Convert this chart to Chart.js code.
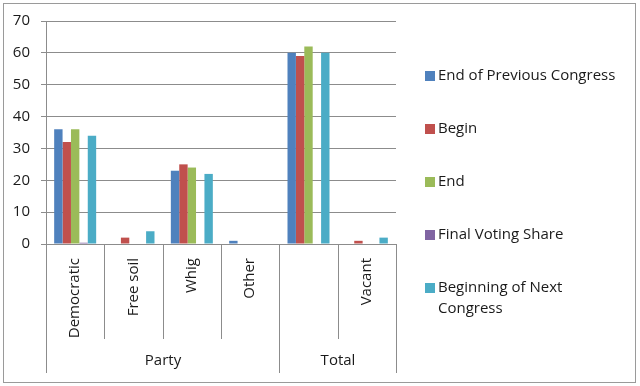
<!DOCTYPE html>
<html>
<head>
<meta charset="utf-8">
<script src="https://cdn.jsdelivr.net/npm/chart.js@4/dist/chart.umd.min.js"></script>
<style>
  html, body { margin: 0; padding: 0; background: #fff; }
  #wrap { position: relative; width: 640px; height: 386px; }
  #frame { position: absolute; left: 3px; top: 3px; width: 633px; height: 380px; border: 1px solid #9a9a9a; box-sizing: border-box; pointer-events: none; }
</style>
</head>
<body>
<div id="wrap">
  <canvas id="chart" width="640" height="386"></canvas>
  <div id="frame"></div>
</div>
<script>
// categories (inner level) and groups (outer level)
const categories = ['Democratic', 'Free soil', 'Whig', 'Other', '', 'Vacant'];
const groupLabels = ['Party', 'Total'];
const groupSpans = [4, 2];

// series
const seriesNames = ['End of Previous Congress', 'Begin', 'End', 'Final Voting Share', ['Beginning of Next', 'Congress']];
const endPrevious = [36, 0, 23, 1, 60, 0];
const begin = [32, 2, 25, 0, 59, 1];
const end = [36, 0, 24, 0, 62, 0];
const finalShare = [0.4, 0, 0, 0, 0, 0];
const beginNext = [34, 4, 22, 0, 60, 2];

const yTicks = [0, 10, 20, 30, 40, 50, 60, 70];

const colors = ['#4F81BD', '#C0504D', '#9BBB59', '#8064A2', '#4BACC6'];
const lineColor = '#8c8c8c';
const textColor = '#1a1a1a';
const fontFamily = '"Open Sans", "DejaVu Sans", sans-serif';

// draws the two-level category axis (separators + group labels)
const multiLevelAxis = {
    id: 'multiLevelAxis',
    afterDraw(chart) {
        const ctx = chart.ctx;
        const x = chart.scales.x;
        const area = chart.chartArea;
        const half = (x.getPixelForValue(1) - x.getPixelForValue(0)) / 2;
        const edge = i => Math.round(x.getPixelForValue(i) - half) + 0.5;

        // which boundaries are group edges
        const outer = [0];
        let acc = 0;
        groupSpans.forEach(s => { acc += s; outer.push(acc); });

        ctx.save();
        ctx.strokeStyle = lineColor;
        ctx.lineWidth = 1;
        for (let i = 0; i <= categories.length; i++) {
            const px = edge(i);
            const bottom = outer.includes(i) ? 373 : 339;
            ctx.beginPath();
            ctx.moveTo(px, area.bottom);
            ctx.lineTo(px, bottom);
            ctx.stroke();
        }

        // group labels
        ctx.fillStyle = textColor;
        ctx.font = '15px ' + fontFamily;
        ctx.textAlign = 'center';
        ctx.textBaseline = 'middle';
        let start = 0;
        groupLabels.forEach((label, g) => {
            const left = edge(start);
            const right = edge(start + groupSpans[g]);
            ctx.fillText(label, (left + right) / 2, 361);
            start += groupSpans[g];
        });
        ctx.restore();
    }
};

// legend on the right, with the last entry on two lines
const sideLegend = {
    id: 'sideLegend',
    afterDraw(chart) {
        const ctx = chart.ctx;
        const rowY = [76, 129, 182, 235, 288];
        ctx.save();
        ctx.font = '15px ' + fontFamily;
        ctx.textBaseline = 'middle';
        ctx.textAlign = 'left';
        chart.data.datasets.forEach((ds, i) => {
            const y = rowY[i];
            ctx.fillStyle = ds.backgroundColor;
            ctx.fillRect(425, y - 5, 10, 10);
            ctx.fillStyle = textColor;
            const lines = Array.isArray(ds.label) ? ds.label : [ds.label];
            lines.forEach((line, k) => ctx.fillText(line, 438, y + k * 21));
        });
        ctx.restore();
    }
};

const seriesValues = [endPrevious, begin, end, finalShare, beginNext];

new Chart(document.getElementById('chart'), {
    type: 'bar',
    data: {
        labels: categories,
        datasets: seriesValues.map((values, i) => ({
            label: seriesNames[i],
            data: values,
            backgroundColor: colors[i],
            borderWidth: 0
        }))
    },
    options: {
        responsive: false,
        animation: false,
        layout: { padding: { top: 21, right: 244, left: 0, bottom: 0 } },
        datasets: { bar: { categoryPercentage: 0.72, barPercentage: 1 } },
        plugins: {
            legend: { display: false },
            tooltip: { enabled: false }
        },
        scales: {
            x: {
                grid: { display: false },
                border: { color: lineColor, width: 1 },
                ticks: {
                    color: textColor,
                    font: { family: fontFamily, size: 15 },
                    minRotation: 90,
                    maxRotation: 90,
                    padding: 6,
                    autoSkip: false
                },
                afterFit(scale) { scale.height = 142; }
            },
            y: {
                min: 0,
                max: 70,
                afterBuildTicks(scale) { scale.ticks = yTicks.map(v => ({ value: v })); },
                grid: { color: lineColor, tickLength: 5, tickColor: lineColor },
                border: { color: lineColor, width: 1 },
                ticks: {
                    color: textColor,
                    font: { family: fontFamily, size: 15 },
                    padding: 11
                },
                afterFit(scale) { scale.width = 46; }
            }
        }
    },
    plugins: [multiLevelAxis, sideLegend]
});
</script>
</body>
</html>
